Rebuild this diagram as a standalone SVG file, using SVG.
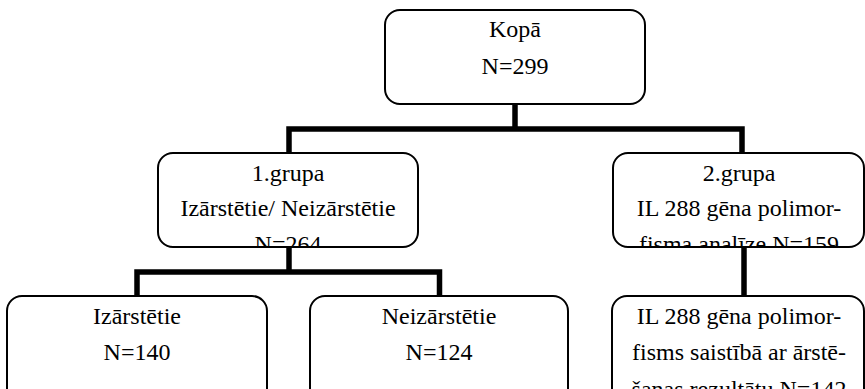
<svg xmlns="http://www.w3.org/2000/svg" width="865" height="389" viewBox="0 0 865 389">
<style>
.box{fill:#fff;stroke:#000;stroke-width:2}
.conn{fill:none;stroke:#000;stroke-width:5.5;stroke-linejoin:miter}
text{font-family:"Liberation Serif","Times New Roman",serif;font-size:24px;fill:#000;text-anchor:middle}
</style>
<defs>
<clipPath id="c1"><rect x="158" y="153" width="260" height="93"/></clipPath>
<clipPath id="c2"><rect x="613" y="153" width="251" height="93"/></clipPath>
</defs>
<g id="connectors">
<path class="conn" d="M515,104 V129"/>
<path class="conn" d="M289,153 V129 H742 V153"/>
<path class="conn" d="M289,247 V272"/>
<path class="conn" d="M137,296 V272 H439.5 V296"/>
<path class="conn" d="M744,247 V296"/>
</g>
<g id="kopa">
<rect class="box" x="385" y="10" width="260" height="94" rx="15"/>
<text x="515" y="37">Kopā</text>
<text x="515" y="74">N=299</text>
</g>
<g id="grupa1">
<rect class="box" x="158" y="153" width="260" height="94" rx="15"/>
<g clip-path="url(#c1)">
<text x="288" y="181">1.grupa</text>
<text x="288" y="216">Izārstētie/ Neizārstētie</text>
<text x="288" y="252">N=264</text>
</g>
</g>
<g id="grupa2">
<rect class="box" x="613" y="153" width="251" height="94" rx="15"/>
<g clip-path="url(#c2)">
<text x="739" y="181">2.grupa</text>
<text x="739" y="216">IL 288 gēna polimor-</text>
<text x="739" y="252">fisma analīze N=159</text>
</g>
</g>
<g id="izarstetie">
<rect class="box" x="7" y="296" width="260" height="120" rx="15"/>
<text x="137" y="324">Izārstētie</text>
<text x="137" y="360">N=140</text>
</g>
<g id="neizarstetie">
<rect class="box" x="310" y="296" width="258" height="120" rx="15"/>
<text x="439" y="324">Neizārstētie</text>
<text x="439" y="360">N=124</text>
</g>
<g id="saistiba">
<rect class="box" x="612" y="296" width="252" height="120" rx="15"/>
<text x="739" y="324">IL 288 gēna polimor-</text>
<text x="739" y="360">fisms saistībā ar ārstē-</text>
<text x="739" y="397">šanas rezultātu N=142</text>
</g>
</svg>
